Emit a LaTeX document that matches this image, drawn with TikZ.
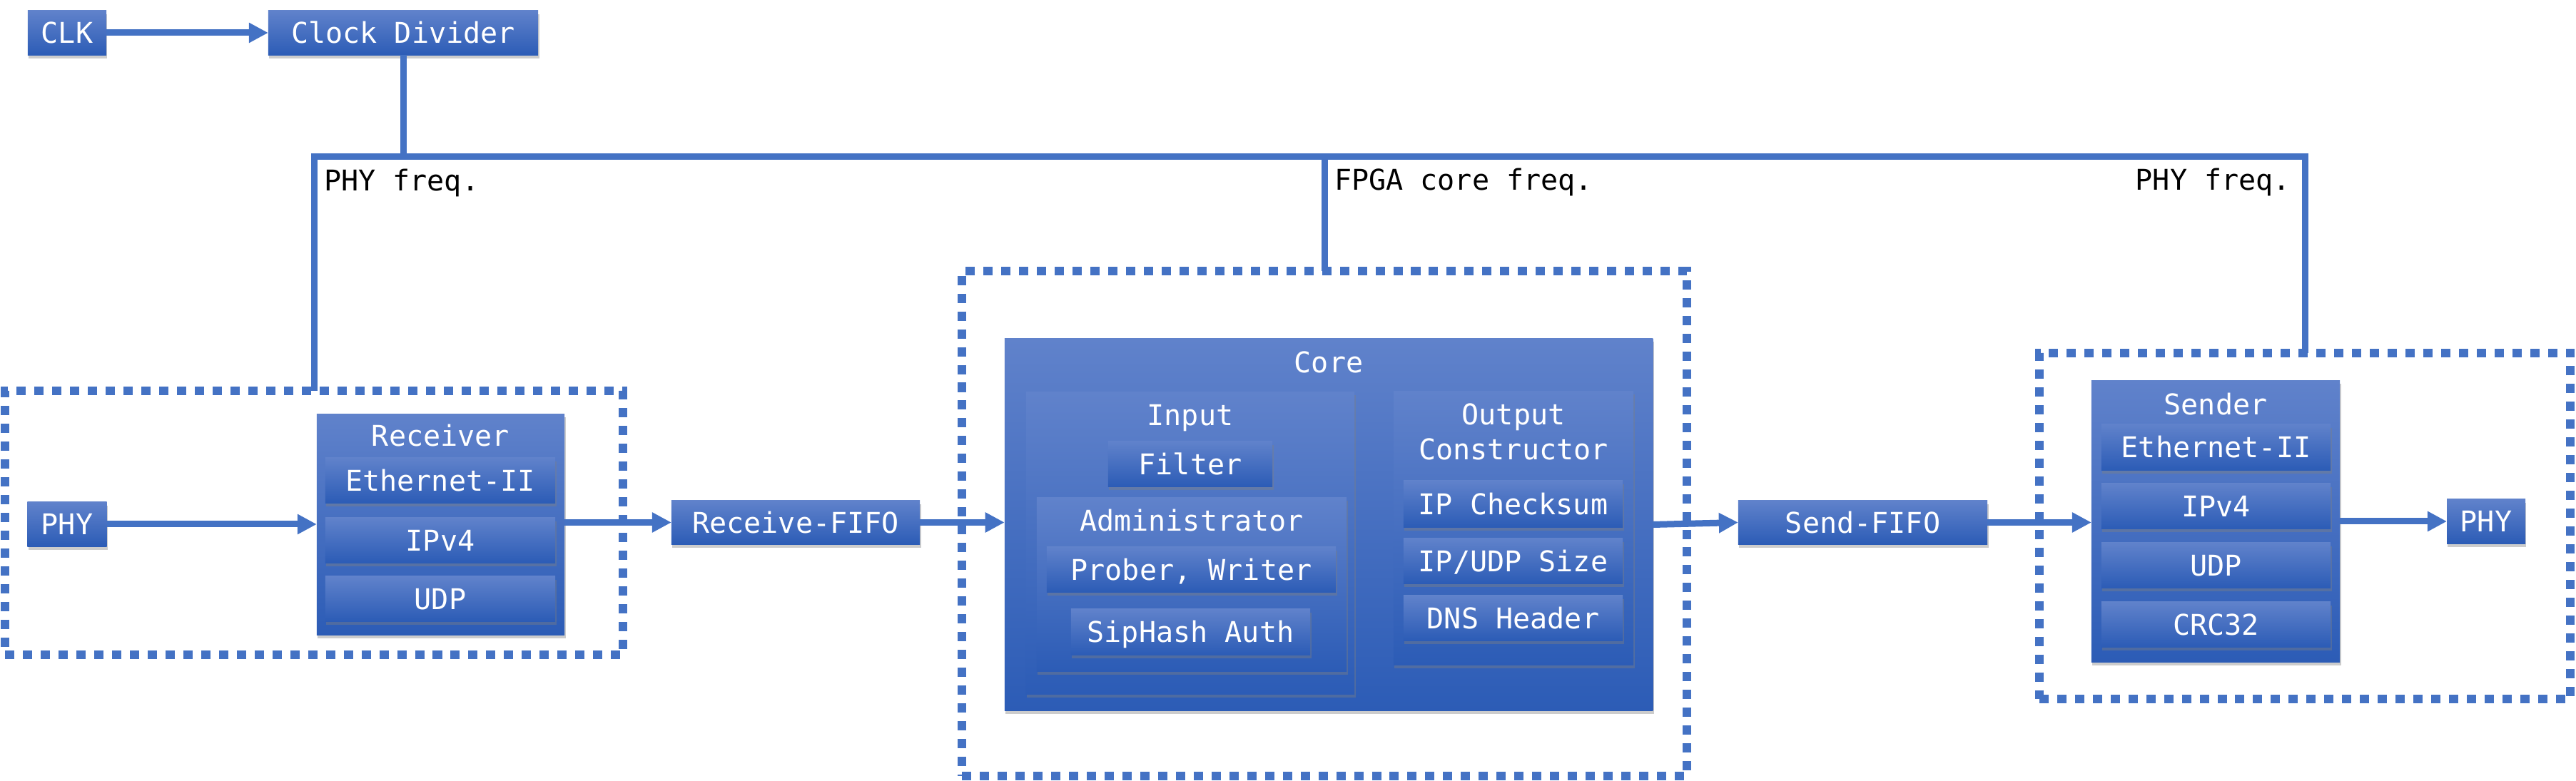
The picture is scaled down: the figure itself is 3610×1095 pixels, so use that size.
\documentclass[tikz,border=0pt]{standalone}
\usepackage{fontspec}
\setmonofont{DejaVu Sans Mono}
\usetikzlibrary{arrows.meta,shadows}
\definecolor{lineblue}{RGB}{68,114,196}
\definecolor{boxtop}{RGB}{96,130,203}
\definecolor{boxbot}{RGB}{44,92,182}
\tikzset{
  base/.style={font=\ttfamily\fontsize{11.4pt}{14pt}\selectfont, inner sep=0pt, outer sep=0pt, text height=8.3pt, text depth=0pt},
  blk/.style={base, rectangle, text=white, top color=boxtop, bottom color=boxbot, draw=none,
    drop shadow={shadow xshift=0.4pt, shadow yshift=-1.3pt, opacity=0.4}},
  ttl/.style={base, text=white, align=center},
  lbl/.style={base, text=black},
  grp/.style={rectangle, draw=lineblue, line width=3.4pt, dash pattern=on 3.7pt off 3.4pt, inner sep=0pt, outer sep=0pt},
  conn/.style={draw=lineblue, line width=2.56pt, -{Triangle[length=7.7pt,width=7.6pt]}},
  clkline/.style={draw=lineblue, line width=2.56pt},
}
\begin{document}
\begin{tikzpicture}[x=0.01cm,y=-0.01cm]
\useasboundingbox (0,0) rectangle (3610,1095);

% dashed clock-domain groups
\node[grp, minimum width=8.65cm, minimum height=3.70cm] (rxg) at (440,733) {};
\node[grp, minimum width=10.15cm, minimum height=7.08cm] (coreg) at (1856,734) {};
\node[grp, minimum width=7.44cm, minimum height=4.85cm] (txg) at (3230,737.5) {};

% clock
\node[blk, minimum width=1.10cm, minimum height=0.62cm] (clk) at (94,46) {CLK};
\node[blk, minimum width=3.78cm, minimum height=0.62cm] (cd) at (565,46) {Clock Divider};
\coordinate (bus) at (0,220);
\draw[clkline] (cd.south) -- (cd.south |- bus);
\draw[clkline] (rxg.north) -- (rxg.north |- bus) -- (txg.north |- bus) -- (txg.north);
\draw[clkline] (coreg.north) -- (coreg.north |- bus);
\node[lbl, anchor=base west] (f1) at (454,268) {PHY freq.};
\node[lbl, anchor=base west] (f2) at (1870,267) {FPGA core freq.};
\node[lbl, anchor=base east] (f3) at (3210,267) {PHY freq.};

% receive side
\node[blk, minimum width=1.11cm, minimum height=0.62cm] (phyin) at (94,735) {PHY};
\node[blk, minimum width=3.47cm, minimum height=3.09cm] (rx) at (617.5,735.5) {};
\node[ttl] (rxt) at (617.5,611) {Receiver};
\node[blk, minimum width=3.22cm, minimum height=0.63cm] (rxeth) at (617,673.5) {Ethernet-II};
\node[blk, minimum width=3.22cm, minimum height=0.63cm] (rxip) at (617,757.5) {IPv4};
\node[blk, minimum width=3.22cm, minimum height=0.63cm] (rxudp) at (617,839.5) {UDP};
\node[blk, minimum width=3.48cm, minimum height=0.61cm] (rfifo) at (1115,732.5) {Receive-FIFO};

% core
\node[blk, minimum width=9.08cm, minimum height=5.21cm] (core) at (1862,735.5) {};
\node[ttl] (coret) at (1862,508) {Core};
\node[blk, minimum width=4.60cm, minimum height=4.23cm] (inp) at (1668,761.5) {};
\node[ttl] (inpt) at (1668,582) {Input};
\node[blk, minimum width=2.30cm, minimum height=0.63cm] (filter) at (1668,650.5) {Filter};
\node[blk, minimum width=4.34cm, minimum height=2.43cm] (adm) at (1670,819.5) {};
\node[ttl] (admt) at (1670,730) {Administrator};
\node[blk, minimum width=4.05cm, minimum height=0.63cm] (prober) at (1669.5,798.5) {Prober, Writer};
\node[blk, minimum width=3.35cm, minimum height=0.64cm] (sip) at (1668.5,886) {SipHash Auth};
\node[blk, minimum width=3.36cm, minimum height=3.83cm] (outc) at (2121,740.5) {};
\node[ttl, anchor=base] (outct) at (2121,645) {Output\\Constructor};
\node[blk, minimum width=3.07cm, minimum height=0.65cm] (ipcs) at (2120.5,706.5) {IP Checksum};
\node[blk, minimum width=3.07cm, minimum height=0.63cm] (ipsz) at (2120.5,786.5) {IP/UDP Size};
\node[blk, minimum width=3.07cm, minimum height=0.63cm] (dnsh) at (2120.5,866.5) {DNS Header};

% send side
\node[blk, minimum width=3.49cm, minimum height=0.61cm] (sfifo) at (2610.5,732.5) {Send-FIFO};
\node[blk, minimum width=3.48cm, minimum height=3.94cm] (tx) at (3105,731) {};
\node[ttl] (txt) at (3105,567) {Sender};
\node[blk, minimum width=3.21cm, minimum height=0.64cm] (txeth) at (3105.5,627) {Ethernet-II};
\node[blk, minimum width=3.21cm, minimum height=0.63cm] (txip) at (3105.5,709.5) {IPv4};
\node[blk, minimum width=3.21cm, minimum height=0.63cm] (txudp) at (3105.5,792.5) {UDP};
\node[blk, minimum width=3.21cm, minimum height=0.63cm] (txcrc) at (3105.5,875.5) {CRC32};
\node[blk, minimum width=1.10cm, minimum height=0.62cm] (phyout) at (3484,731) {PHY};

% data path
\draw[conn] (clk.east) -- (cd.west);
\draw[conn] (phyin.east) -- (phyin.east -| rx.west);
\draw[conn] (rx.east |- rfifo.west) -- (rfifo.west);
\draw[conn] (rfifo.east) -- (rfifo.east -| core.west);
\draw[conn] (core.east) -- (sfifo.west);
\draw[conn] (sfifo.east) -- (sfifo.east -| tx.west);
\draw[conn] (tx.east |- phyout.west) -- (phyout.west);
\end{tikzpicture}
\end{document}
